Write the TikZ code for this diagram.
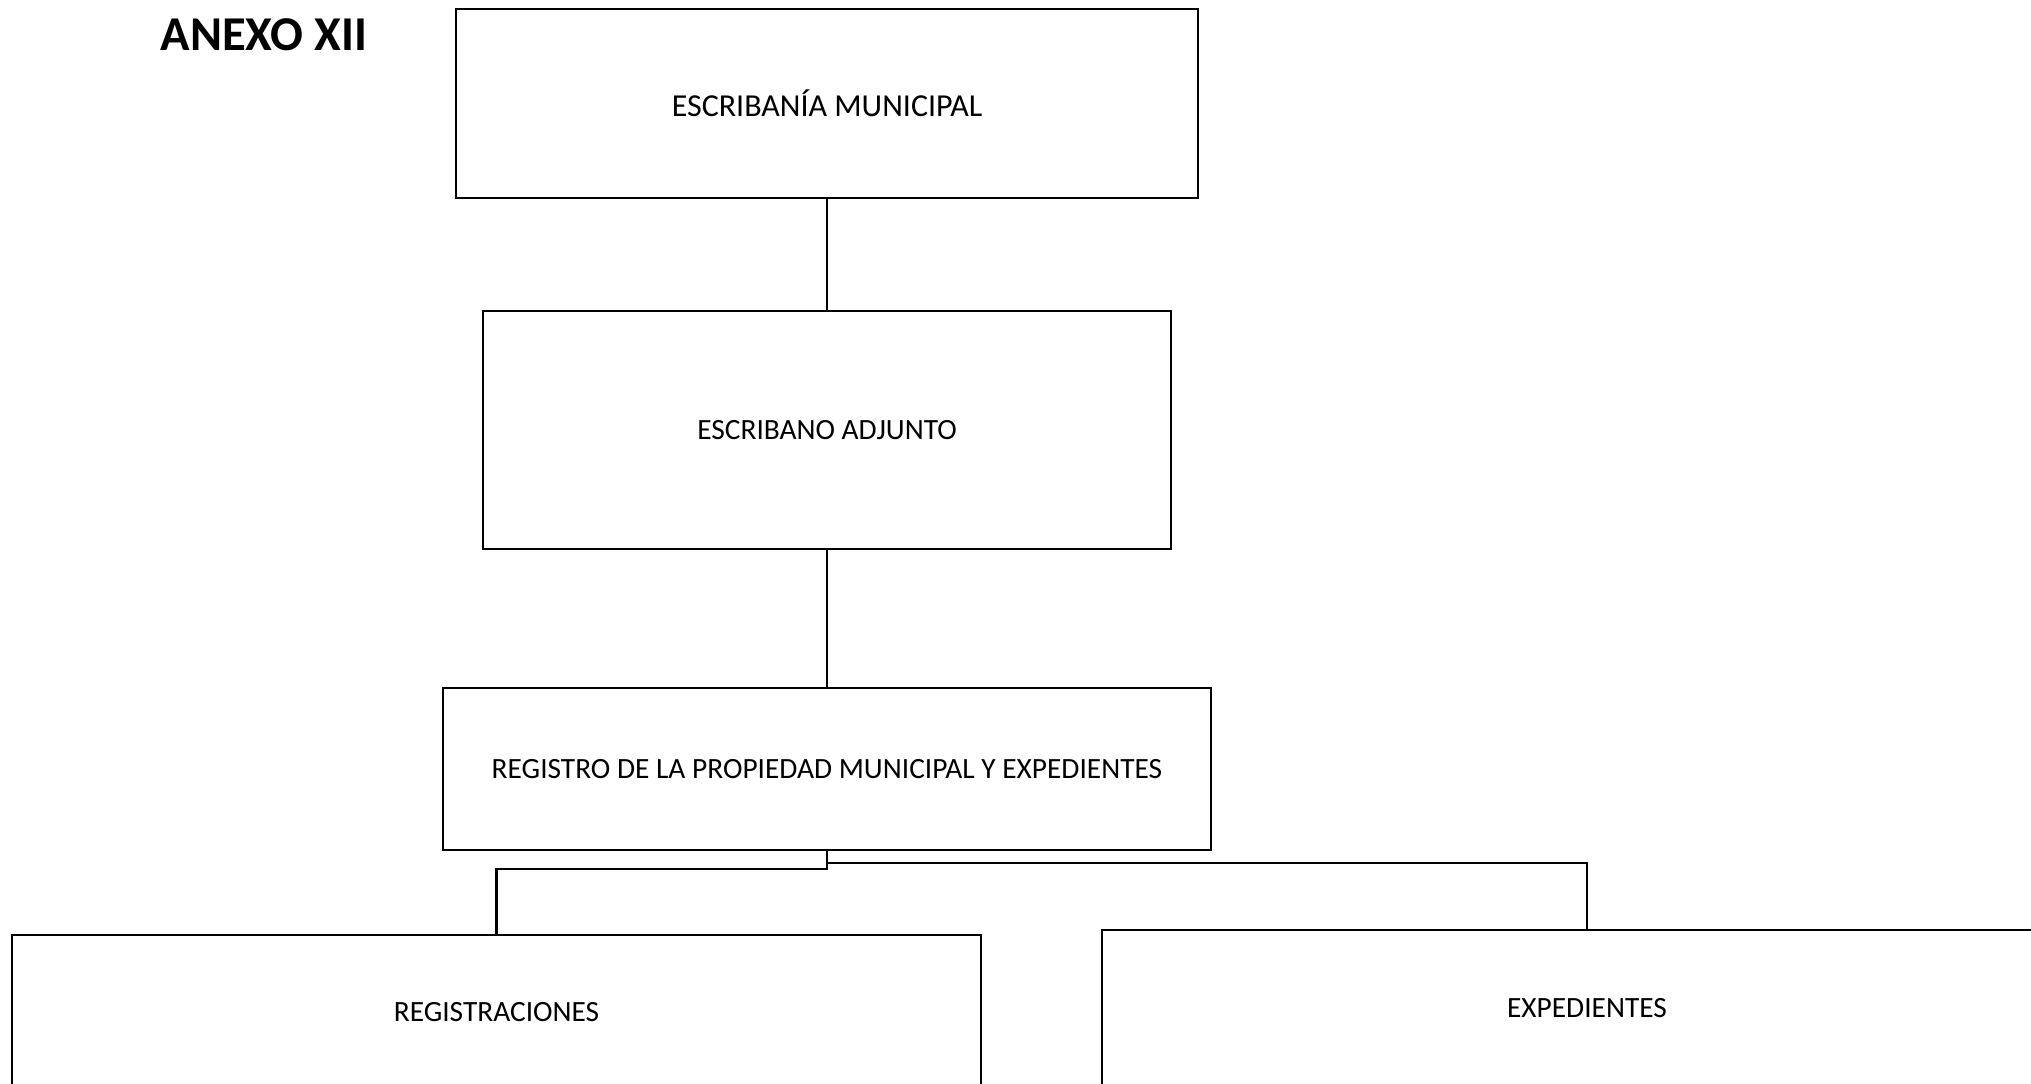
\documentclass[tikz,border=0pt]{standalone}
\usepackage{fontspec}
\setmainfont{Carlito}
\begin{document}
\begin{tikzpicture}[x=0.5pt, y=-0.5pt,
    caja/.style={draw=black, line width=1.4pt, inner sep=0pt, font=\fontsize{14.7}{18}\selectfont},
    linea/.style={black, line width=1.1pt}]
            \useasboundingbox (0,0) rectangle (2031,1083);
            \clip (0,0) rectangle (2031,1083);

            \node[font=\fontsize{24.3}{29}\selectfont\bfseries] (anexo) at (264,35) {ANEXO XII};

            \node[caja, minimum width=371pt, minimum height=94.5pt, font=\fontsize{16}{19}\selectfont] (escribania) at (827,103.5) {ESCRIBANÍA MUNICIPAL};
            \node[caja, minimum width=344pt, minimum height=119pt] (adjunto) at (827,430) {ESCRIBANO ADJUNTO};
            \node[caja, minimum width=384pt, minimum height=81pt] (registro) at (827,769) {REGISTRO DE LA PROPIEDAD MUNICIPAL Y EXPEDIENTES};
            \node[caja, minimum width=484.5pt, minimum height=77pt] (registraciones) at (496.5,1012) {REGISTRACIONES};
            \node[caja, minimum width=485pt, minimum height=78pt] (expedientes) at (1587,1008) {EXPEDIENTES};

            \coordinate (codoizq) at (827,869);
            \coordinate (cododer) at (827,863);

            \draw[linea] (escribania.south) -- (adjunto.north);
            \draw[linea] (adjunto.south) -- (registro.north);
            \draw[linea] (registro.south) -- (codoizq) -| (registraciones.north);
            \draw[linea] (registro.south) -- (cododer) -| (expedientes.north);
        \end{tikzpicture}
\end{document}
